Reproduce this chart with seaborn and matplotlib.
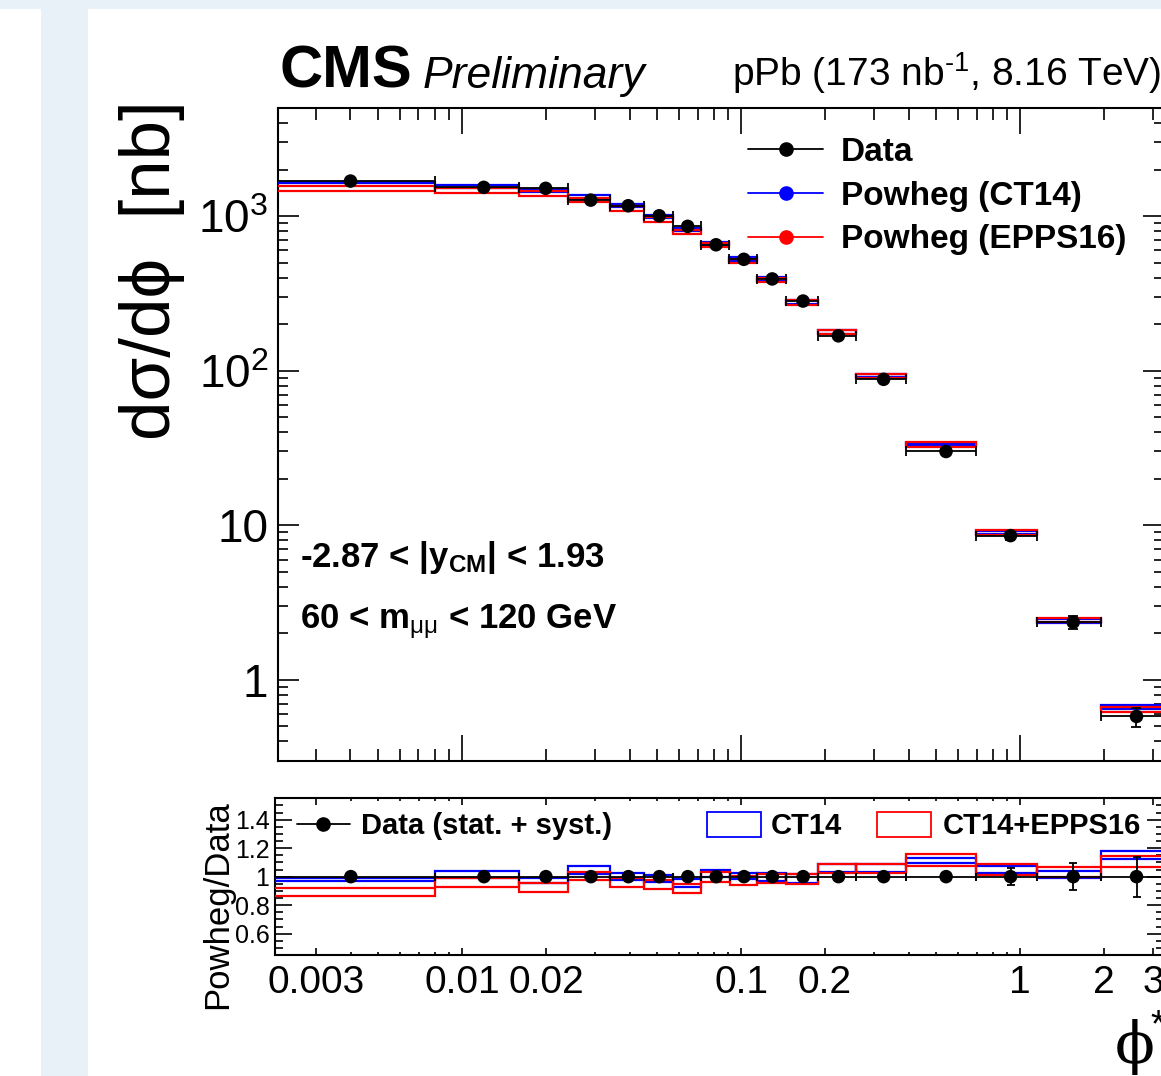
import numpy as np
import pandas as pd
import matplotlib
matplotlib.use('Agg')
import matplotlib.pyplot as plt
import seaborn as sns
from matplotlib.patches import Rectangle
from matplotlib.lines import Line2D
from matplotlib.ticker import LogLocator, MultipleLocator, NullFormatter, FixedLocator

# ---------------- data ----------------
bin_lo = [0.0, 0.008, 0.016, 0.024, 0.034, 0.045, 0.057, 0.072, 0.091, 0.114,
          0.145, 0.189, 0.258, 0.391, 0.695, 1.153, 1.947]
bin_hi = [0.008, 0.016, 0.024, 0.034, 0.045, 0.057, 0.072, 0.091, 0.114, 0.145,
          0.189, 0.258, 0.391, 0.695, 1.153, 1.947, 3.277]
data_xsec = [1684, 1533, 1511, 1268, 1166, 1004, 858, 652, 525, 392,
             282, 168, 87.9, 30.0, 8.57, 2.36, 0.58]
data_relerr = [0.01, 0.01, 0.01, 0.01, 0.01, 0.01, 0.01, 0.012, 0.012, 0.012,
               0.012, 0.012, 0.015, 0.02, 0.06, 0.094, 0.14]
ct14_ratio_lo = [0.972, 0.990, 0.953, 1.020, 0.977, 0.965, 0.930, 1.000, 0.980, 0.972,
                 0.953, 1.031, 1.035, 1.094, 1.024, 0.989, 1.122]
ct14_ratio_hi = [0.990, 1.040, 0.989, 1.077, 1.024, 1.014, 0.981, 1.047, 1.028, 1.024,
                 1.017, 1.087, 1.087, 1.129, 1.077, 1.042, 1.180]
epps_ratio_lo = [0.864, 0.926, 0.895, 0.977, 0.926, 0.914, 0.888, 0.965, 0.942, 0.958,
                 0.949, 1.024, 1.024, 1.075, 1.012, 1.000, 1.070]
epps_ratio_hi = [0.923, 0.989, 0.958, 1.035, 0.989, 0.977, 0.946, 1.031, 1.005, 1.017,
                 1.017, 1.087, 1.087, 1.157, 1.087, 1.070, 1.147]

top_ytick_vals = [1, 10, 100, 1000]
top_ytick_labels = ['1', '10', r'10$^{2}$', r'10$^{3}$']
ratio_xtick_vals = [0.003, 0.01, 0.02, 0.1, 0.2, 1, 2, 3]
ratio_xtick_labels = ['0.003', '0.01', '0.02', '0.1', '0.2', '1', '2', '3']
ratio_ytick_vals = [0.6, 0.8, 1.0, 1.2, 1.4]
ratio_ytick_labels = ['0.6', '0.8', '1', '1.2', '1.4']

# ---------------- style ----------------
sns.set_theme(style='ticks')
plt.rcParams['font.family'] = ['Liberation Sans', 'DejaVu Sans']
plt.rcParams['mathtext.fontset'] = 'custom'
plt.rcParams['mathtext.rm'] = 'Liberation Sans'
plt.rcParams['mathtext.it'] = 'Liberation Sans:italic'
plt.rcParams['mathtext.bf'] = 'Liberation Sans:bold'
plt.rcParams['mathtext.default'] = 'regular'
plt.rcParams['axes.edgecolor'] = 'black'
plt.rcParams['xtick.color'] = 'black'
plt.rcParams['ytick.color'] = 'black'
plt.rcParams['text.color'] = 'black'

W, H = 1161, 1076
fig = plt.figure(figsize=(W / 100, H / 100), dpi=100)
fig.patch.set_facecolor('white')
bg = '#e8f0f8'
fig.patches.append(Rectangle((0, 1 - 9 / H), 1, 9 / H, transform=fig.transFigure,
                             facecolor=bg, edgecolor='none', zorder=-10))
fig.patches.append(Rectangle((41 / W, 0), 47 / W, 1 - 9 / H, transform=fig.transFigure,
                             facecolor=bg, edgecolor='none', zorder=-10))

def fx(px):
    return px / W

def fy(py):
    return 1 - py / H

ax = fig.add_axes([fx(278), fy(760.7), fx(1164) - fx(278), fy(108) - fy(760.7)])
axr = fig.add_axes([fx(275), fy(955), fx(1164) - fx(275), fy(798.3) - fy(955)])

lo = np.array(bin_lo)
hi = np.array(bin_hi)
centers = (lo + hi) / 2
lo_draw = np.where(lo > 0, lo, 1e-3)
widths = hi - lo_draw
xs = np.array(data_xsec)
rel = np.array(data_relerr)

df = pd.DataFrame({'phi': centers, 'xsec': xs, 'ratio': np.ones_like(xs)})

lw = 1.6
# ---- top panel ----
for rlo, rhi, col in [(ct14_ratio_lo, ct14_ratio_hi, '#0000ff'),
                      (epps_ratio_lo, epps_ratio_hi, '#ff0000')]:
    ylo = xs * np.array(rlo)
    yhi = xs * np.array(rhi)
    ax.bar(lo_draw, yhi - ylo, bottom=ylo, width=widths, align='edge',
           fill=False, edgecolor=col, linewidth=lw, zorder=3)

ax.errorbar(centers, xs, xerr=[centers - lo_draw, hi - centers], yerr=xs * rel,
            fmt='none', ecolor='black', elinewidth=1.3, capsize=3.5, capthick=1.3, zorder=4)
sns.scatterplot(data=df, x='phi', y='xsec', ax=ax, color='black', s=95,
                edgecolor='none', zorder=5, legend=False)

ax.set_xscale('log')
ax.set_yscale('log')
ax.set_xlim(0.0022, 3.277)
ax.set_ylim(0.30, 5000)
ax.set_xlabel('')
ax.set_ylabel('')
ax.xaxis.set_major_locator(LogLocator(base=10))
ax.xaxis.set_minor_locator(LogLocator(base=10, subs=np.arange(2, 10)))
ax.xaxis.set_minor_formatter(NullFormatter())
ax.tick_params(axis='x', labelbottom=False)
ax.yaxis.set_major_locator(FixedLocator(top_ytick_vals))
ax.set_yticklabels(top_ytick_labels)
ax.yaxis.set_minor_locator(LogLocator(base=10, subs=np.arange(2, 10)))
ax.yaxis.set_minor_formatter(NullFormatter())
ax.tick_params(which='both', direction='in', top=True, right=True, width=1.2)
ax.tick_params(axis='x', which='major', length=18.5)
ax.tick_params(axis='x', which='minor', length=8.6)
ax.tick_params(axis='y', which='major', length=15, labelsize=33, pad=7)
ax.tick_params(axis='y', which='minor', length=7.2)
for s in ax.spines.values():
    s.set_linewidth(1.5)

# ---- ratio panel ----
for rlo, rhi, col in [(ct14_ratio_lo, ct14_ratio_hi, '#0000ff'),
                      (epps_ratio_lo, epps_ratio_hi, '#ff0000')]:
    rl = np.array(rlo)
    rh = np.array(rhi)
    axr.bar(lo_draw, rh - rl, bottom=rl, width=widths, align='edge',
            fill=False, edgecolor=col, linewidth=lw, zorder=3)
axr.errorbar(centers, df['ratio'], xerr=[centers - lo_draw, hi - centers], yerr=rel,
             fmt='none', ecolor='black', elinewidth=1.3, capsize=3, capthick=1.3, zorder=4)
sns.scatterplot(data=df, x='phi', y='ratio', ax=axr, color='black', s=95,
                edgecolor='none', zorder=5, legend=False)
axr.set_xscale('log')
axr.set_xlim(0.00214, 3.277)
axr.set_ylim(0.45, 1.55)
axr.set_xlabel('')
axr.set_ylabel('')
axr.xaxis.set_major_locator(FixedLocator(ratio_xtick_vals))
axr.set_xticklabels(ratio_xtick_labels)
axr.xaxis.set_minor_locator(LogLocator(base=10, subs=np.arange(1, 10)))
axr.xaxis.set_minor_formatter(NullFormatter())
axr.yaxis.set_major_locator(FixedLocator(ratio_ytick_vals))
axr.set_yticklabels(ratio_ytick_labels)
axr.yaxis.set_minor_locator(MultipleLocator(0.05))
axr.tick_params(which='both', direction='in', top=True, right=True, width=1.2)
axr.tick_params(axis='x', which='major', length=5, labelsize=28, pad=7)
axr.tick_params(axis='x', which='minor', length=2.5)
axr.tick_params(axis='y', which='major', length=12, labelsize=18, pad=4)
axr.tick_params(axis='y', which='minor', length=6)
for s in axr.spines.values():
    s.set_linewidth(1.5)

# ---- texts ----
fig.text(fx(280), fy(88), 'CMS', fontsize=43, fontweight='bold', ha='left', va='baseline')
fig.text(fx(423), fy(88), 'Preliminary', fontsize=32, fontstyle='italic', ha='left', va='baseline')
fig.text(fx(732), fy(86), 'pPb (173 nb$^{‐1}$, 8.16 TeV)', fontsize=28, ha='left', va='baseline')
fig.text(fx(152), fy(270), 'dσ/dϕ  [nb]', fontsize=51, rotation=90, ha='center', va='center')
fig.text(fx(218), fy(905), 'Powheg/Data', fontsize=25, rotation=90, ha='center', va='center')
fig.text(fx(1135), fy(1047), 'ϕ', fontsize=42, family=['DejaVu Serif'], ha='center', va='center')
fig.text(fx(1158), fy(1026), '*', fontsize=28, ha='center', va='center')
fig.text(fx(300), fy(567), r'-2.87 < |y$_{\mathbf{CM}}$| < 1.93', fontsize=25, fontweight='bold',
         ha='left', va='baseline')
fig.text(fx(300), fy(628), r'60 < m$_{\mathrm{μμ}}$ < 120 GeV', fontsize=25, fontweight='bold',
         ha='left', va='baseline')

# ---- legends ----
h_data = Line2D([], [], color='black', marker='o', ms=9.5, lw=1.3)
h_ct = Line2D([], [], color='#0000ff', marker='o', ms=9.5, lw=1.3)
h_ep = Line2D([], [], color='#ff0000', marker='o', ms=9.5, lw=1.3)
fig.legend([h_data, h_ct, h_ep], ['Data', 'Powheg (CT14)', 'Powheg (EPPS16)'],
           loc='upper left', bbox_to_anchor=(fx(748), fy(137)), frameon=False,
           borderpad=0, borderaxespad=0, handlelength=2.25, handletextpad=0.54,
           labelspacing=0.38, prop={'weight': 'bold', 'size': 24})

fig.legend([Line2D([], [], color='black', marker='o', ms=9.5, lw=1.3)],
           ['Data (stat. + syst.)'], loc='center left', bbox_to_anchor=(fx(297), fy(826)),
           frameon=False, borderpad=0, borderaxespad=0, handlelength=1.8,
           handletextpad=0.41, prop={'weight': 'bold', 'size': 21})
fig.legend([Rectangle((0, 0), 1, 1, facecolor='none', edgecolor='#0000ff', lw=1.3)],
           ['CT14'], loc='center left', bbox_to_anchor=(fx(707), fy(826)),
           frameon=False, borderpad=0, borderaxespad=0, handlelength=1.85, handleheight=0.95,
           handletextpad=0.35, prop={'weight': 'bold', 'size': 21})
fig.legend([Rectangle((0, 0), 1, 1, facecolor='none', edgecolor='#ff0000', lw=1.3)],
           ['CT14+EPPS16'], loc='center left', bbox_to_anchor=(fx(877), fy(826)),
           frameon=False, borderpad=0, borderaxespad=0, handlelength=1.85, handleheight=0.95,
           handletextpad=0.4, prop={'weight': 'bold', 'size': 21})

fig.savefig('out.png', dpi=100)
